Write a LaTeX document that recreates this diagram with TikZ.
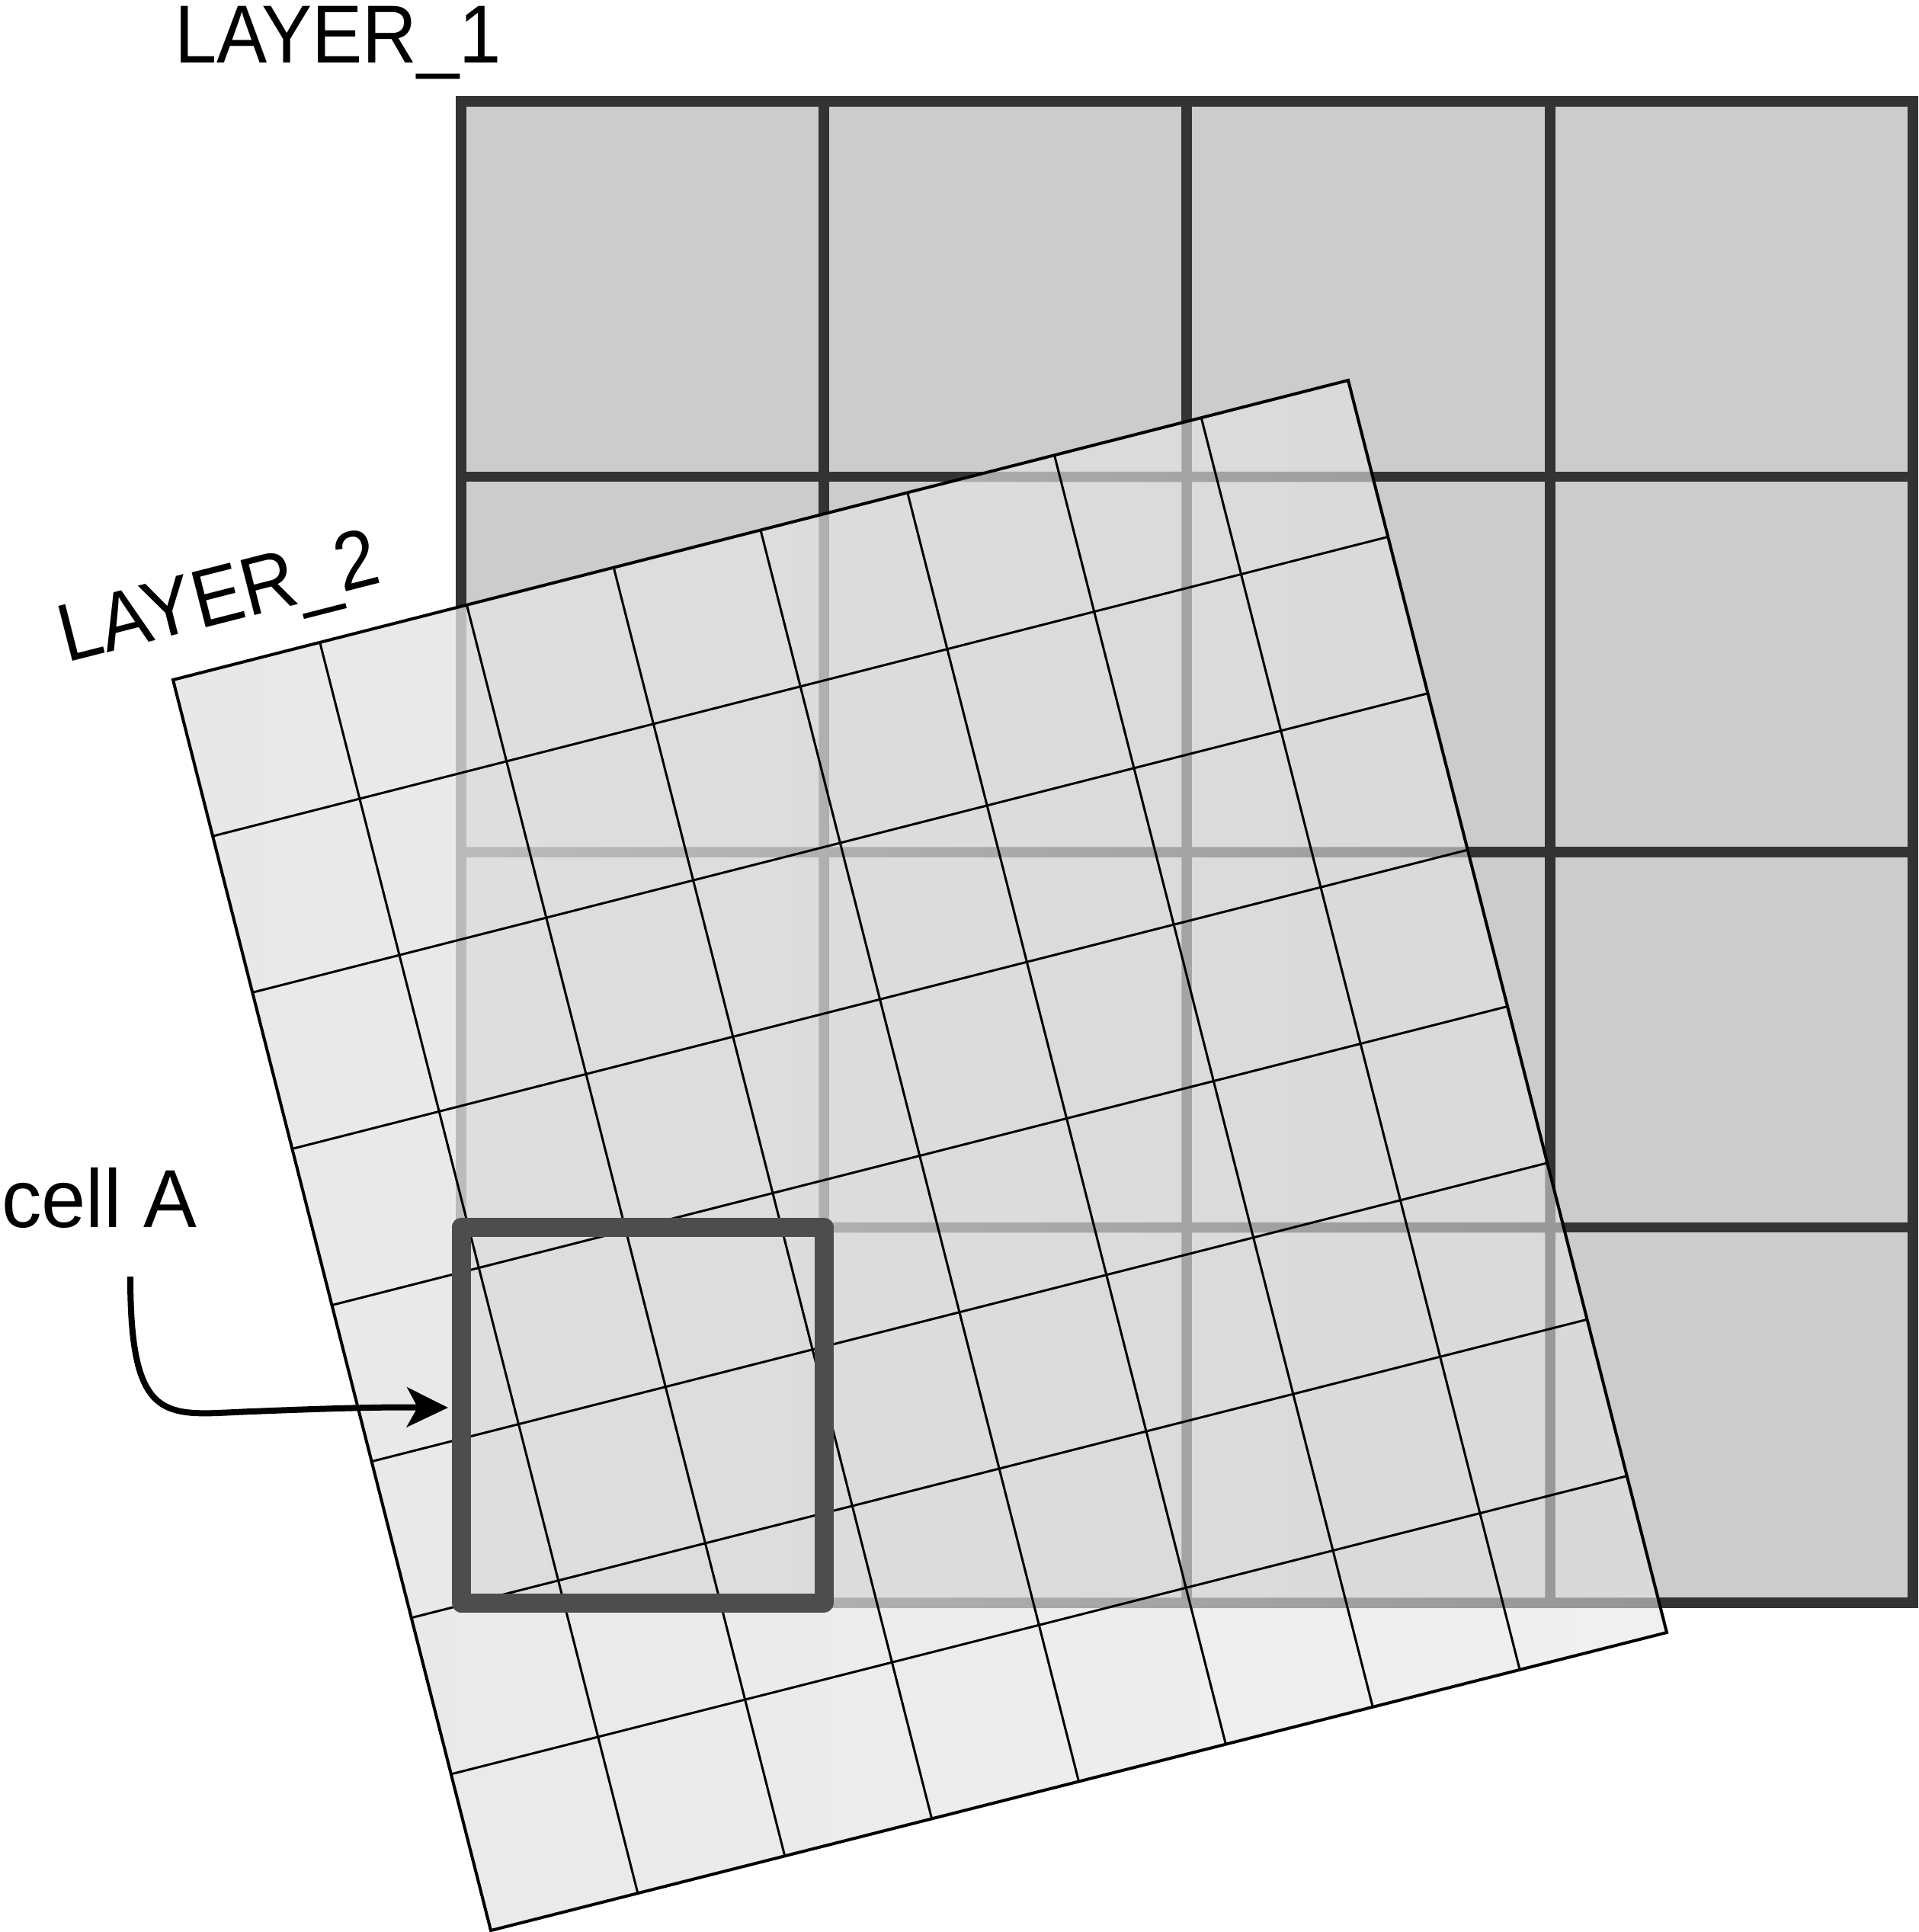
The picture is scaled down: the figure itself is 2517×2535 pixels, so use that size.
\documentclass[tikz,border=0pt]{standalone}
\usepackage{fontspec}
\setmainfont{Liberation Sans}
\usetikzlibrary{calc,arrows.meta}
\definecolor{layerone}{HTML}{CCCCCC}
\definecolor{layeroneline}{HTML}{333333}
\definecolor{cellline}{HTML}{4D4D4D}
% layer 2 as seen over white, over layer 1 cells and over layer 1 lines (left / right)
\definecolor{overwhiteL}{HTML}{E8E8E8}
\definecolor{overwhiteR}{HTML}{F0F0F0}
\definecolor{overgrayL}{HTML}{DFDFDF}
\definecolor{overgrayR}{HTML}{D9D9D9}
\definecolor{overlineL}{HTML}{C4C4C4}
\definecolor{overlineR}{HTML}{959595}
\begin{document}
\begin{tikzpicture}[x=1pt,y=-1pt,
  l1line/.style={draw=layeroneline, line width=13.5pt},
  l2line/.style={draw=black, line width=3pt},
  l2border/.style={draw=black, line width=4pt, line join=miter},
  cellbox/.style={draw=cellline, line width=25pt, line join=round,
    minimum width=476pt, minimum height=493pt, inner sep=0pt},
  lbl/.style={font=\fontsize{108}{120}\selectfont, inner sep=0pt},
  pointer/.style={line width=8pt, -{Stealth[length=54pt,width=52pt,inset=14pt]}}]
\useasboundingbox (0,0) rectangle (2517,2535);

% layer 1
\fill[layerone] (605,133) rectangle (2510,2103);
\foreach \x in {1081,1557,2034} \draw[l1line] (\x,133) -- (\x,2103);
\foreach \y in {625.5,1118,1610.5} \draw[l1line] (605,\y) -- (2510,\y);
\draw[l1line] (605,133) rectangle (2510,2103);

% layer 2 corners
\coordinate (TL) at (227,892);
\coordinate (TR) at (1769,499);
\coordinate (BR) at (2187,2142);
\coordinate (BL) at (644,2533);

% translucent sheet, composed opaquely
\begin{scope}
  \clip (TL) -- (TR) -- (BR) -- (BL) -- cycle;
  \shade[left color=overwhiteL, right color=overwhiteR] (227,499) rectangle (2187,2533);
  \begin{scope}
    \clip (605,133) rectangle (2510,2103);
    \shade[left color=overgrayL, right color=overgrayR] (227,499) rectangle (2187,2533);
  \end{scope}
  \begin{scope}
    \clip (598.25,126.25) rectangle (611.75,2109.75)
          (1074.25,126.25) rectangle (1087.75,2109.75)
          (1550.25,126.25) rectangle (1563.75,2109.75)
          (2027.25,126.25) rectangle (2040.75,2109.75)
          (2503.25,126.25) rectangle (2516.75,2109.75)
          (598.25,126.25) rectangle (2516.75,139.75)
          (598.25,618.75) rectangle (2516.75,632.25)
          (598.25,1111.25) rectangle (2516.75,1124.75)
          (598.25,1603.75) rectangle (2516.75,1617.25)
          (598.25,2096.25) rectangle (2516.75,2109.75);
    \shade[left color=overlineL, right color=overlineR] (227,499) rectangle (2187,2533);
  \end{scope}
\end{scope}

% layer 2 grid
\foreach \i in {1,...,7} {
  \draw[l2line] ($(TL)!\i/8!(TR)$) -- ($(BL)!\i/8!(BR)$);
  \draw[l2line] ($(TL)!\i/8!(BL)$) -- ($(TR)!\i/8!(BR)$);
}
\draw[l2border] (TL) -- (TR) -- (BR) -- (BL) -- cycle;

% cell A
\node[cellbox] (cellA) at (843,1856.5) {};
\coordinate (arrowstart) at (171,1675);
\draw[pointer] (arrowstart) .. controls (171,1875) and (220,1856) .. (330,1852)
  .. controls (430,1848) and (500,1846) .. ([xshift=-4.5pt,yshift=9.5pt]cellA.west);

% labels
\node[lbl, xscale=0.92, anchor=base west] (layeronelabel) at (229,82) {LAYER\_1};
\node[rotate=14.3, lbl, xscale=0.92, anchor=base west] (layertwolabel) at (87,870) {LAYER\_2};
\node[lbl, xscale=0.97, anchor=base west] (cellalabel) at (2,1610) {cell A};
\end{tikzpicture}
\end{document}
